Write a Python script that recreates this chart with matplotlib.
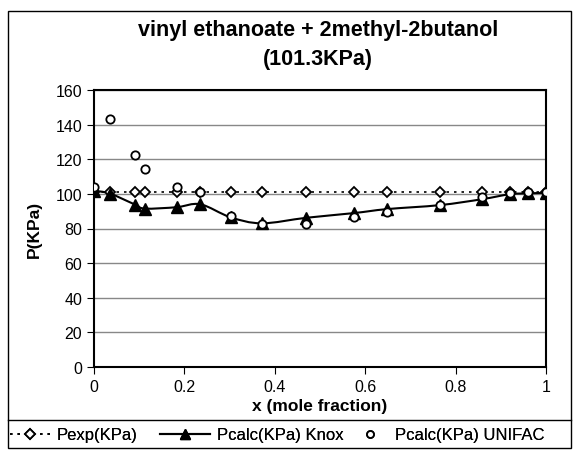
import numpy as np
import matplotlib
matplotlib.use("Agg")
import matplotlib.pyplot as plt
from matplotlib.path import Path
from matplotlib.patches import PathPatch, Rectangle
from matplotlib.lines import Line2D

plt.rcParams["font.family"] = ["Liberation Sans", "DejaVu Sans"]

# mole fractions and pressures
x = [0.0, 0.035, 0.091, 0.113, 0.183, 0.235, 0.302, 0.371, 0.47, 0.575, 0.648,
     0.765, 0.858, 0.92, 0.96, 1.0]
p_exp = [101.3] * len(x)
p_knox = [101.8, 100.2, 93.8, 91.5, 92.3, 94.0, 86.5, 83.0, 86.2, 88.9, 91.2,
          93.5, 96.9, 99.8, 100.3, 100.6]
p_unifac = [104.0, 143.0, 122.7, 114.5, 104.0, 101.2, 87.0, 82.5, 82.8, 86.8, 89.4,
            93.8, 98.0, 100.3, 101.0, 101.3]
labels = ["Pexp(KPa)", "Pcalc(KPa) Knox", "Pcalc(KPa) UNIFAC"]

fig = plt.figure(figsize=(5.74, 4.52), dpi=100)
ax = fig.add_axes([94 / 574, 1 - 368 / 452, 452 / 574, 277 / 452])

# smoothed line through the Knox points (Catmull-Rom as cubic Bezier)
pts = np.column_stack([x, p_knox])
verts = [pts[0]]
codes = [Path.MOVETO]
for i in range(len(pts) - 1):
    p0 = pts[max(i - 1, 0)]
    p1 = pts[i]
    p2 = pts[i + 1]
    p3 = pts[min(i + 2, len(pts) - 1)]
    c1 = p1 + (p2 - p0) / 6
    c2 = p2 - (p3 - p1) / 6
    verts += [c1, c2, p2]
    codes += [Path.CURVE4] * 3
ax.add_patch(PathPatch(Path(verts, codes), fill=False, lw=1.5, ec="black", zorder=3))

ax.plot(x, p_exp, ls=(0, (1.5, 3)), color="black", lw=1.2, marker="D", ms=5.5,
        mfc="white", mec="black", mew=1.3, zorder=4)
ax.plot(x, p_knox, ls="none", marker="^", ms=8, color="black", zorder=5)
ax.plot(x, p_unifac, ls="none", marker="o", ms=6, mfc="white", mec="black",
        mew=1.3, zorder=6)

ax.set_xlim(0, 1)
ax.set_ylim(0, 160)
ax.set_xticks([0, 0.2, 0.4, 0.6, 0.8, 1])
ax.set_xticklabels(["0", "0.2", "0.4", "0.6", "0.8", "1"])
ax.set_yticks(range(0, 161, 20))
ax.yaxis.grid(True, color="#888888", lw=1)
ax.set_axisbelow(True)
ax.tick_params(direction="out", length=5, labelsize=11.5, colors="black")
for s in ax.spines.values():
    s.set_linewidth(1.5)
    s.set_color("black")

ax.set_xlabel("x (mole fraction)", fontsize=12.5, fontweight="bold", labelpad=3)
ax.set_ylabel("P(KPa)", fontsize=12.5, fontweight="bold", labelpad=10)
fig.text(318 / 574, 1 - 45 / 452, "vinyl ethanoate + 2methyl-2butanol\n(101.3KPa)",
         ha="center", va="center", fontsize=15.5, fontweight="bold", linespacing=1.45)

# outer chart border and legend separator
fig.patches.append(Rectangle((8 / 574, 3 / 452), 563 / 574, 437 / 452, fill=False,
                             ec="black", lw=1, transform=fig.transFigure, figure=fig))
fig.lines.append(Line2D([8 / 574, 571 / 574], [1 - 421 / 452, 1 - 421 / 452],
                        color="black", lw=1, transform=fig.transFigure, figure=fig))

handles = [
    Line2D([], [], ls=(0, (1.5, 3)), color="black", lw=1.2, marker="D", ms=5,
           mfc="white", mew=1.3),
    Line2D([], [], ls="-", color="black", lw=1.5, marker="^", ms=7),
    Line2D([], [], ls="none", marker="o", ms=5, mfc="white", mec="black", mew=1.3),
]
starts = [10 / 574, 160 / 574, 352 / 574]
hlens = [2.4, 3.0, 2.2]
for h, lab, sx, hl in zip(handles, labels, starts, hlens):
    leg = fig.legend([h], [lab], loc="center left", bbox_to_anchor=(sx, 1 - 436 / 452),
                     frameon=False, fontsize=12, handlelength=hl, handletextpad=0.4,
                     borderaxespad=0, borderpad=0)
    fig.add_artist(leg)

fig.savefig("out.png", dpi=100)
